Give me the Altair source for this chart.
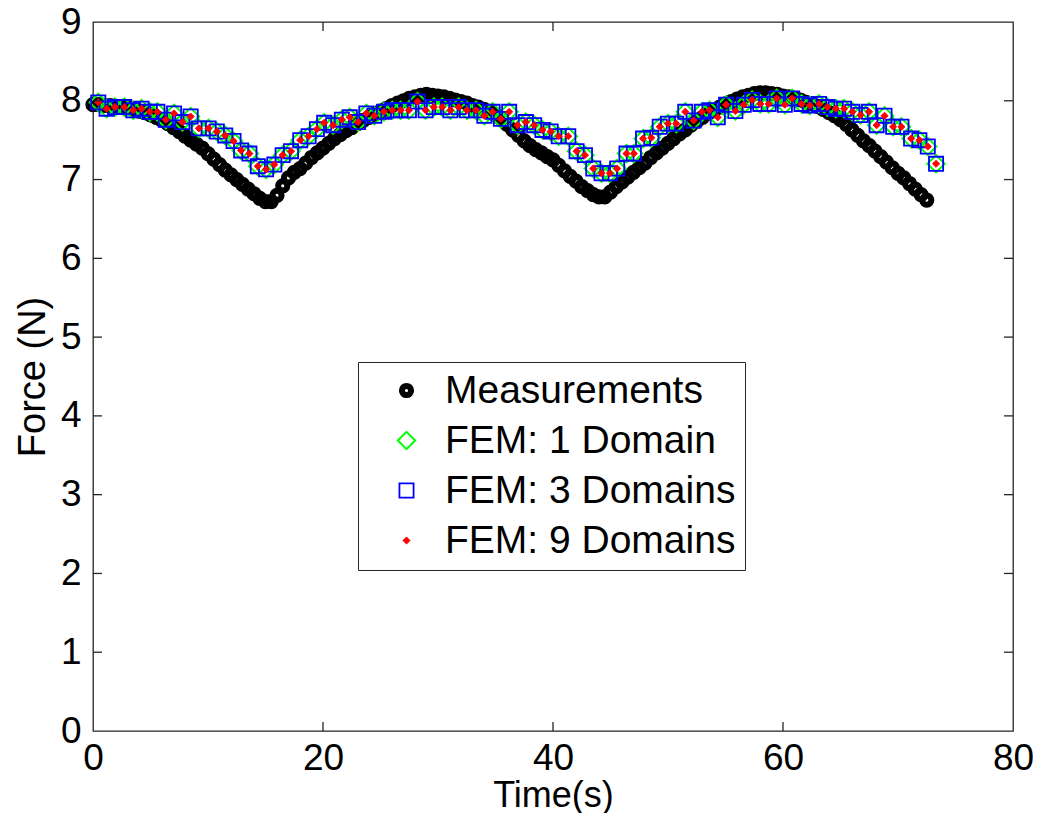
import altair as alt
import pandas as pd

# ---------------- data ----------------
meas_time = [0.0, 0.5, 1.0, 1.5, 2.0, 2.5, 3.0, 3.5, 4.0, 4.5, 5.0, 5.5, 6.0, 6.5, 7.0, 7.5,
             8.0, 8.5, 9.0, 9.5, 10.0, 10.5, 11.0, 11.5, 12.0, 12.5, 13.0, 13.5, 14.0, 14.5,
             15.0, 15.5, 16.0, 16.5, 17.0, 17.5, 18.0, 18.5, 19.0, 19.5, 20.0, 20.5, 21.0,
             21.5, 22.0, 22.5, 23.0, 23.5, 24.0, 24.5, 25.0, 25.5, 26.0, 26.5, 27.0, 27.5,
             28.0, 28.5, 29.0, 29.5, 30.0, 30.5, 31.0, 31.5, 32.0, 32.5, 33.0, 33.5, 34.0,
             34.5, 35.0, 35.5, 36.0, 36.5, 37.0, 37.5, 38.0, 38.5, 39.0, 39.5, 40.0, 40.5,
             41.0, 41.5, 42.0, 42.5, 43.0, 43.5, 44.0, 44.5, 45.0, 45.5, 46.0, 46.5, 47.0,
             47.5, 48.0, 48.5, 49.0, 49.5, 50.0, 50.5, 51.0, 51.5, 52.0, 52.5, 53.0, 53.5,
             54.0, 54.5, 55.0, 55.5, 56.0, 56.5, 57.0, 57.5, 58.0, 58.5, 59.0, 59.5, 60.0,
             60.5, 61.0, 61.5, 62.0, 62.5, 63.0, 63.5, 64.0, 64.5, 65.0, 65.5, 66.0, 66.5,
             67.0, 67.5, 68.0, 68.5, 69.0, 69.5, 70.0, 70.5, 71.0, 71.5, 72.0, 72.5]
meas_force = [7.95, 7.95, 7.94, 7.94, 7.93, 7.92, 7.91, 7.89, 7.87, 7.85, 7.82, 7.79, 7.75,
              7.71, 7.66, 7.61, 7.55, 7.50, 7.45, 7.40, 7.33, 7.26, 7.19, 7.12, 7.06, 7.00,
              6.94, 6.88, 6.82, 6.76, 6.72, 6.72, 6.80, 6.92, 7.02, 7.09, 7.14, 7.21, 7.28,
              7.34, 7.40, 7.46, 7.52, 7.57, 7.62, 7.66, 7.71, 7.75, 7.79, 7.83, 7.87, 7.90,
              7.94, 7.97, 8.00, 8.03, 8.05, 8.07, 8.08, 8.07, 8.06, 8.05, 8.03, 8.01, 7.99,
              7.97, 7.94, 7.92, 7.89, 7.86, 7.82, 7.77, 7.70, 7.63, 7.56, 7.49, 7.43, 7.38,
              7.34, 7.29, 7.25, 7.18, 7.11, 7.04, 6.98, 6.91, 6.86, 6.81, 6.78, 6.78, 6.84,
              6.91, 6.97, 7.03, 7.09, 7.15, 7.21, 7.28, 7.34, 7.40, 7.46, 7.52, 7.58, 7.63,
              7.69, 7.74, 7.79, 7.84, 7.88, 7.92, 7.96, 7.99, 8.02, 8.05, 8.07, 8.09, 8.10,
              8.10, 8.09, 8.08, 8.06, 8.05, 8.03, 8.01, 7.98, 7.96, 7.93, 7.89, 7.85, 7.81,
              7.76, 7.70, 7.63, 7.56, 7.49, 7.43, 7.36, 7.29, 7.22, 7.15, 7.08, 7.02, 6.95,
              6.88, 6.81, 6.74]

fem_time = [0.46, 1.18, 1.91, 2.72, 3.50, 4.22, 4.94, 5.60, 6.33, 7.05, 7.77, 8.49, 9.21,
            10.05, 10.77, 11.50, 12.22, 12.88, 13.60, 14.33, 15.05, 15.77, 16.49, 17.22,
            18.02, 18.75, 19.47, 20.10,
            20.88, 21.64, 22.33, 23.05, 23.77, 24.46, 25.30, 26.02, 26.75, 27.47, 28.22,
            28.92, 29.64, 30.36, 31.08, 31.80, 32.52, 33.30, 34.03, 34.75, 35.47, 36.19,
            36.92, 37.64, 38.36, 39.08, 39.80, 40.50,
            41.33, 42.05, 42.78, 43.50, 44.22, 44.95, 45.58, 46.39, 47.03, 47.83, 48.55,
            49.28, 50.00, 50.72, 51.50, 52.23, 52.95, 53.61, 54.33, 55.05, 55.86, 56.59,
            57.31, 58.03, 58.75, 59.45, 60.16, 60.80,
            61.61, 62.33, 63.14, 63.86, 64.59, 65.31, 66.03, 66.75, 67.48, 68.14, 68.83,
            69.58, 70.30, 71.14, 71.86, 72.59, 73.31]
fem1_force = [7.98, 7.90, 7.92, 7.92, 7.88, 7.90, 7.86, 7.86, 7.76, 7.84, 7.73, 7.80, 7.65,
              7.65, 7.61, 7.56, 7.49, 7.37, 7.33, 7.17, 7.13, 7.19, 7.31, 7.36, 7.50, 7.55,
              7.64, 7.72,
              7.69, 7.76, 7.79, 7.73, 7.84, 7.81, 7.86, 7.88, 7.88, 7.88, 7.99, 7.88, 7.92,
              7.92, 7.88, 7.92, 7.88, 7.88, 7.81, 7.86, 7.77, 7.86, 7.69, 7.73, 7.69, 7.63,
              7.61, 7.55,
              7.55, 7.36, 7.31, 7.14, 7.08, 7.08, 7.14, 7.33, 7.33, 7.52, 7.53, 7.67, 7.71,
              7.71, 7.86, 7.75, 7.86, 7.88, 7.79, 7.95, 7.87, 7.95, 8.01, 7.96, 7.96, 8.03,
              7.95, 8.03,
              7.96, 7.94, 7.96, 7.92, 7.90, 7.90, 7.86, 7.82, 7.86, 7.69, 7.81, 7.67, 7.67,
              7.52, 7.50, 7.42, 7.20]
# the three FEM runs coincide in the picture
fem3_force = list(fem1_force)
fem9_force = list(fem1_force)

series_names = ["Measurements", "FEM: 1 Domain", "FEM: 3 Domains", "FEM: 9 Domains"]
x_tick_values = [0, 20, 40, 60, 80]
y_tick_values = [0, 1, 2, 3, 4, 5, 6, 7, 8, 9]
inner_x_ticks = [20, 40, 60]
inner_y_ticks = [1, 2, 3, 4, 5, 6, 7, 8]

# ---------------- build tables ----------------
rows = []
for t, f in zip(meas_time, meas_force):
    rows.append({"Time": t, "Force": f, "series": series_names[0]})
for name, arr in zip(series_names[1:], [fem1_force, fem3_force, fem9_force]):
    for t, f in zip(fem_time, arr):
        rows.append({"Time": t, "Force": f, "series": name})
df = pd.DataFrame(rows)

W, H = 920, 709
FONT = "Liberation Sans"
FS = 37
TICK = 9
EDGE = "#262626"

xscale = alt.Scale(domain=[0, 80], nice=False, zero=False)
yscale = alt.Scale(domain=[0, 9], nice=False, zero=False)
leg = alt.Legend(title=None)

points = alt.Chart(df).mark_point(opacity=1).encode(
    x=alt.X("Time:Q", scale=xscale,
            axis=alt.Axis(title="Time(s)", values=x_tick_values, format="d",
                          labelPadding=9, titleY=75, titleBaseline="alphabetic",
                          titleFontSize=36)),
    y=alt.Y("Force:Q", scale=yscale,
            axis=alt.Axis(title="Force (N)", values=y_tick_values, format="d",
                          labelPadding=12, titleX=-60, titleY=H / 2,
                          titleBaseline="middle", titleFontSize=38)),
    shape=alt.Shape("series:N", legend=leg,
                    scale=alt.Scale(type="ordinal", domain=series_names,
                                    range=["circle", "diamond", "square", "diamond"])),
    stroke=alt.Stroke("series:N", legend=leg,
                      scale=alt.Scale(type="ordinal", domain=series_names,
                                      range=["#000000", "#00ff00", "#0000ff", "#ff0000"])),
    fill=alt.Fill("series:N", legend=leg,
                  scale=alt.Scale(type="ordinal", domain=series_names,
                                  range=["transparent", "transparent", "transparent", "#ff0000"])),
    size=alt.Size("series:N", legend=leg,
                  scale=alt.Scale(type="ordinal", domain=series_names,
                                  range=[85, 300, 200, 50])),
    strokeWidth=alt.StrokeWidth("series:N", legend=leg,
                                scale=alt.Scale(type="ordinal", domain=series_names,
                                                range=[6, 2, 1.8, 1])),
)

xt = pd.DataFrame({"Time": inner_x_ticks})
yt = pd.DataFrame({"Force": inner_y_ticks})
bottom_ticks = alt.Chart(xt).mark_rule(color=EDGE, strokeWidth=1.3).encode(
    x=alt.X("Time:Q", scale=xscale), y=alt.value(H), y2=alt.value(H - TICK))
top_ticks = alt.Chart(xt).mark_rule(color=EDGE, strokeWidth=1.3).encode(
    x=alt.X("Time:Q", scale=xscale), y=alt.value(0), y2=alt.value(TICK))
left_ticks = alt.Chart(yt).mark_rule(color=EDGE, strokeWidth=1.3).encode(
    y=alt.Y("Force:Q", scale=yscale), x=alt.value(0), x2=alt.value(TICK))
right_ticks = alt.Chart(yt).mark_rule(color=EDGE, strokeWidth=1.3).encode(
    y=alt.Y("Force:Q", scale=yscale), x=alt.value(W), x2=alt.value(W - TICK))

chart = alt.layer(points, bottom_ticks, top_ticks, left_ticks, right_ticks).properties(
    width=W, height=H,
    autosize=alt.AutoSizeParams(type="none"),
    padding={"left": 85, "top": 14, "right": 20, "bottom": 82},
).configure_view(
    stroke=EDGE, strokeWidth=1.3
).configure_axis(
    grid=False, domain=False, ticks=False, tickSize=0, labelFlush=False,
    labelFont=FONT, labelFontSize=FS, labelColor="#000000",
    titleFont=FONT, titleFontWeight="normal", titleColor="#000000",
).configure_legend(
    orient="none", legendX=265, legendY=340, padding=9,
    strokeColor=EDGE, fillColor="#ffffff",
    labelFont=FONT, labelFontSize=39, labelColor="#000000", labelLimit=0,
    symbolOffset=20, labelOffset=19, rowPadding=10,
)

chart.save("out.html", embed_options={"renderer": "svg", "actions": False})
